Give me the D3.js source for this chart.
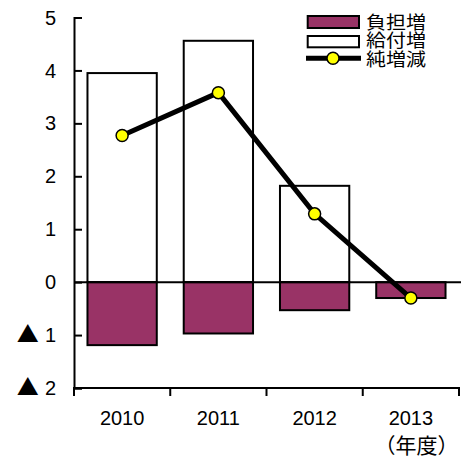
<!DOCTYPE html>
<html><head><meta charset="utf-8">
<script src="https://cdn.jsdelivr.net/npm/d3@7"></script>
<style>body{margin:0;background:#fff}svg{display:block}</style>
</head><body>
<svg id="c" width="461" height="459"></svg>
<script>
const categories = ["2010", "2011", "2012", "2013"];
const benefitIncrease = [3.95, 4.56, 1.82, 0];      // 給付増
const burdenIncrease = [-1.19, -0.97, -0.53, -0.30]; // 負担増
const netChange = [2.77, 3.58, 1.29, -0.30];        // 純増減
const yTicks = [5, 4, 3, 2, 1, 0, -1, -2];
const legendLabels = ["負担増", "給付増", "純増減"];
const xUnitLabel = "（年度）";

(function () {
const purple = "#993366";
const svg = d3.select("#c");
const mLeft = 74, mRight = 459, mTop = 17.5, mBottom = 388;
const latin = "Liberation Sans, Arial, sans-serif";
const cjk = "Noto Sans CJK JP, sans-serif";

const y = d3.scaleLinear().domain([-2, 5]).range([mBottom, mTop]);
const xAxisBand = d3.scaleBand().domain(categories).range([mLeft, mRight]).padding(0);
const xBar = d3.scaleBand().domain(categories).range([mLeft, mRight]).paddingInner(0.28).paddingOuter(0.14);

// Bars: positive (white)
svg.append("g").selectAll("rect").data(categories).join("rect")
  .attr("x", d => xBar(d))
  .attr("width", xBar.bandwidth())
  .attr("y", (d, i) => y(benefitIncrease[i]))
  .attr("height", (d, i) => y(0) - y(benefitIncrease[i]))
  .attr("fill", "#fff")
  .attr("stroke", (d, i) => benefitIncrease[i] > 0 ? "#000" : "none")
  .attr("stroke-width", 2);

// Bars: negative (purple)
svg.append("g").selectAll("rect").data(categories).join("rect")
  .attr("x", d => xBar(d))
  .attr("width", xBar.bandwidth())
  .attr("y", y(0))
  .attr("height", (d, i) => y(burdenIncrease[i]) - y(0))
  .attr("fill", purple)
  .attr("stroke", "#000")
  .attr("stroke-width", 2);

// Zero line
svg.append("line").attr("x1", mLeft).attr("x2", 461).attr("y1", y(0)).attr("y2", y(0))
  .attr("stroke", "#000").attr("stroke-width", 2);

// Y axis
const yAxis = d3.axisLeft(y).tickValues(yTicks).tickSize(-8).tickPadding(18)
  .tickFormat(d => String(Math.abs(d)));
const gy = svg.append("g").attr("transform", `translate(${mLeft},0)`).call(yAxis);
gy.select(".domain").attr("stroke-width", 2);
gy.selectAll(".tick line").attr("stroke-width", 2);
gy.selectAll(".tick text").attr("font-family", latin)
  .attr("font-size", 20).attr("fill", "#000").attr("dy", "0.33em")
  .each(function (d) {
    if (d < 0) {
      const t = d3.select(this);
      t.text(null);
      t.append("tspan").attr("font-family", cjk).attr("font-size", 22).text("▲");
      t.append("tspan").attr("dx", 6).text(String(-d));
    }
  });

// X axis
svg.append("line").attr("x1", mLeft).attr("x2", mRight).attr("y1", mBottom).attr("y2", mBottom)
  .attr("stroke", "#000").attr("stroke-width", 2);
const boundaries = categories.map(d => xAxisBand(d)).concat([mRight]);
svg.append("g").selectAll("line").data(boundaries).join("line")
  .attr("x1", d => d).attr("x2", d => d).attr("y1", mBottom - 1).attr("y2", mBottom + 8)
  .attr("stroke", "#000").attr("stroke-width", 2);
svg.append("g").selectAll("text").data(categories).join("text")
  .attr("x", d => xAxisBand(d) + xAxisBand.bandwidth() / 2)
  .attr("y", 425)
  .attr("text-anchor", "middle")
  .attr("font-family", latin)
  .attr("font-size", 20)
  .text(d => d);
svg.append("text").attr("x", 416.5).attr("y", 453).attr("text-anchor", "middle")
  .attr("font-family", cjk).attr("font-size", 21)
  .text(xUnitLabel);

// Line
const cx = (d, i) => xAxisBand(categories[i]) + xAxisBand.bandwidth() / 2;
const line = d3.line().x((d, i) => cx(d, i)).y(d => y(d));
svg.append("path").datum(netChange).attr("d", line)
  .attr("fill", "none").attr("stroke", "#000").attr("stroke-width", 5);
svg.append("g").selectAll("circle").data(netChange).join("circle")
  .attr("cx", cx).attr("cy", d => y(d)).attr("r", 6)
  .attr("fill", "#ffff00").attr("stroke", "#000").attr("stroke-width", 1.5);

// Legend
const lg = svg.append("g");
lg.append("rect").attr("x", 307.7).attr("y", 16).attr("width", 51.3).attr("height", 12)
  .attr("fill", purple).attr("stroke", "#000").attr("stroke-width", 2);
lg.append("rect").attr("x", 307.7).attr("y", 36).attr("width", 51.3).attr("height", 11.3)
  .attr("fill", "#fff").attr("stroke", "#000").attr("stroke-width", 2);
lg.append("line").attr("x1", 306).attr("x2", 361).attr("y1", 58.3).attr("y2", 58.3)
  .attr("stroke", "#000").attr("stroke-width", 5);
lg.append("circle").attr("cx", 333).attr("cy", 58.3).attr("r", 6)
  .attr("fill", "#ffff00").attr("stroke", "#000").attr("stroke-width", 1.5);
const lt = lg.append("text")
  .attr("font-family", cjk).attr("font-size", 18);
lt.selectAll("tspan").data(legendLabels).join("tspan")
  .attr("x", 366).attr("y", (d, i) => 28.5 + i * 18.8)
  .attr("textLength", 60).attr("lengthAdjust", "spacingAndGlyphs")
  .text(d => d);
})();
</script>
</body></html>
